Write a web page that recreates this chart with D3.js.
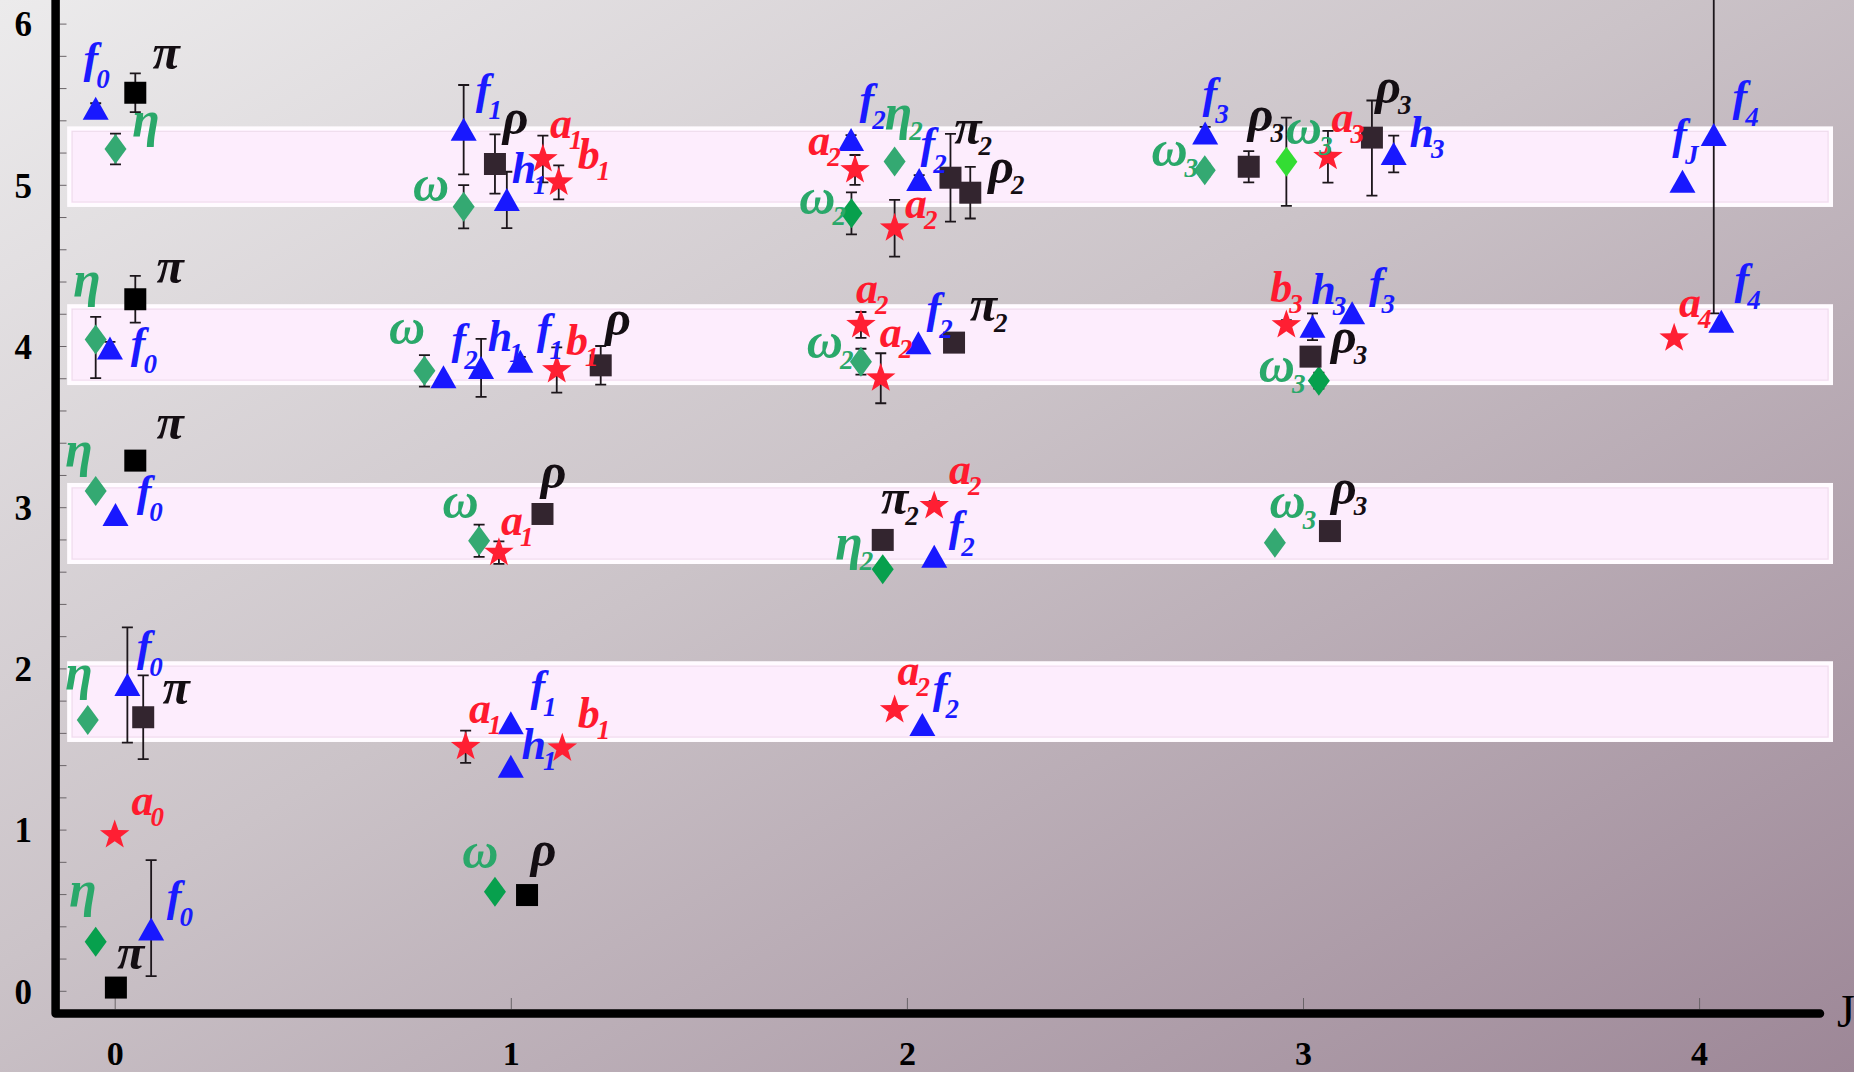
<!DOCTYPE html>
<html><head><meta charset="utf-8">
<script src="https://cdn.jsdelivr.net/npm/d3@7"></script>
<style>html,body{margin:0;padding:0;overflow:hidden;background:#fff}</style>
</head><body><svg id="c" width="1854" height="1072"></svg>
<script>
// ---------------- DATA (J, M^2, error low, error high) ----------------
const xTickLabels = [0, 1, 2, 3, 4];
const yTickLabels = [0, 1, 2, 3, 4, 5, 6];
const bands = [[4.875, 5.35], [3.77, 4.247], [2.66, 3.138], [1.556, 2.032]];

// pi / rho family, black squares
const squaresBlack = [
  {J: 0.003, m2: 0.02, lo: 0, hi: 0},
  {J: 1.041, m2: 0.594, lo: 0, hi: 0},
  {J: 0.052, m2: 3.289, lo: 0, hi: 0},
  {J: 0.052, m2: 4.29, lo: 0.145, hi: 0.145},
  {J: 0.052, m2: 5.571, lo: 0.12, hi: 0.12}
];
// pi / rho family, dark squares
const squaresDark = [
  {J: 0.072, m2: 1.697, lo: 0.26, hi: 0.26},
  {J: 1.080, m2: 2.958, lo: 0, hi: 0},
  {J: 1.939, m2: 2.797, lo: 0, hi: 0},
  {J: 3.068, m2: 2.852, lo: 0, hi: 0},
  {J: 1.227, m2: 3.880, lo: 0.12, hi: 0.12},
  {J: 2.119, m2: 4.021, lo: 0, hi: 0},
  {J: 3.019, m2: 3.934, lo: 0.04, hi: 0.04},
  {J: 0.960, m2: 5.129, lo: 0.184, hi: 0.184},
  {J: 2.110, m2: 5.044, lo: 0.272, hi: 0.272},
  {J: 2.160, m2: 4.951, lo: 0.16, hi: 0.16},
  {J: 2.863, m2: 5.112, lo: 0.097, hi: 0.097},
  {J: 3.174, m2: 5.293, lo: 0.36, hi: 0.23}
];
// eta / omega family, green diamonds
const diamondsDeep = [
  {J: -0.048, m2: 0.305, lo: 0, hi: 0},
  {J: 0.960, m2: 0.615, lo: 0, hi: 0},
  {J: 1.939, m2: 2.615, lo: 0, hi: 0},
  {J: 1.860, m2: 4.823, lo: 0.13, hi: 0.13},
  {J: 3.040, m2: 3.785, lo: 0.05, hi: 0.05}
];
const diamondsLight = [
  {J: -0.068, m2: 1.680, lo: 0, hi: 0},
  {J: -0.048, m2: 3.100, lo: 0, hi: 0},
  {J: 0.920, m2: 2.792, lo: 0.1, hi: 0.1},
  {J: 2.929, m2: 2.780, lo: 0, hi: 0},
  {J: -0.048, m2: 4.041, lo: 0.24, hi: 0.14},
  {J: 0.782, m2: 3.846, lo: 0.098, hi: 0.098},
  {J: 1.884, m2: 3.903, lo: 0.08, hi: 0.08},
  {J: 0.002, m2: 5.222, lo: 0.095, hi: 0.095},
  {J: 0.881, m2: 4.864, lo: 0.134, hi: 0.134},
  {J: 1.969, m2: 5.144, lo: 0, hi: 0},
  {J: 2.752, m2: 5.091, lo: 0.04, hi: 0.04}
];
const diamondsLime = [
  {J: 2.958, m2: 5.143, lo: 0.274, hi: 0.274}
];
// f / h family, blue triangles
const triangles = [
  {J: 0.092, m2: 0.381, lo: 0.29, hi: 0.43},
  {J: 0.032, m2: 1.897, lo: 0.357, hi: 0.357},
  {J: 1.000, m2: 1.659, lo: 0, hi: 0},
  {J: 1.000, m2: 1.390, lo: 0, hi: 0},
  {J: 2.039, m2: 1.649, lo: 0, hi: 0},
  {J: 0.002, m2: 2.951, lo: 0, hi: 0},
  {J: 2.069, m2: 2.693, lo: 0, hi: 0},
  {J: -0.012, m2: 3.985, lo: 0.04, hi: 0.04},
  {J: 0.830, m2: 3.806, lo: 0, hi: 0},
  {J: 0.925, m2: 3.864, lo: 0.18, hi: 0.18},
  {J: 1.024, m2: 3.902, lo: 0.03, hi: 0.03},
  {J: 2.029, m2: 4.017, lo: 0, hi: 0},
  {J: 3.024, m2: 4.120, lo: 0.083, hi: 0.083},
  {J: 3.124, m2: 4.203, lo: 0, hi: 0},
  {J: 4.056, m2: 4.151, lo: 0, hi: 0},
  {J: -0.048, m2: 5.471, lo: 0.035, hi: 0.035},
  {J: 0.881, m2: 5.342, lo: 0.277, hi: 0.277},
  {J: 0.990, m2: 4.906, lo: 0.175, hi: 0.175},
  {J: 1.859, m2: 5.278, lo: 0.03, hi: 0.03},
  {J: 2.031, m2: 5.030, lo: 0.03, hi: 0.03},
  {J: 2.753, m2: 5.319, lo: 0.04, hi: 0.04},
  {J: 3.229, m2: 5.191, lo: 0.114, hi: 0.114},
  {J: 3.958, m2: 5.019, lo: 0, hi: 0},
  {J: 4.037, m2: 5.309, lo: 1.106, hi: 1.106}
];
// a / b family, red stars
const stars = [
  {J: 0.000, m2: 0.966, lo: 0, hi: 0},
  {J: 0.886, m2: 1.514, lo: 0.1, hi: 0.1},
  {J: 1.130, m2: 1.504, lo: 0, hi: 0},
  {J: 1.969, m2: 1.742, lo: 0, hi: 0},
  {J: 0.970, m2: 2.718, lo: 0.07, hi: 0.07},
  {J: 2.069, m2: 3.008, lo: 0.03, hi: 0.03},
  {J: 1.116, m2: 3.851, lo: 0.14, hi: 0.14},
  {J: 1.884, m2: 4.131, lo: 0.08, hi: 0.08},
  {J: 1.934, m2: 3.800, lo: 0.155, hi: 0.155},
  {J: 2.958, m2: 4.130, lo: 0.03, hi: 0.03},
  {J: 3.937, m2: 4.048, lo: 0, hi: 0},
  {J: 1.081, m2: 5.160, lo: 0.145, hi: 0.145},
  {J: 1.121, m2: 5.015, lo: 0.106, hi: 0.106},
  {J: 1.869, m2: 5.092, lo: 0.093, hi: 0.093},
  {J: 1.969, m2: 4.730, lo: 0.176, hi: 0.176},
  {J: 3.063, m2: 5.174, lo: 0.16, hi: 0.16}
];

// labels: [symbol, subscript, J, M^2] (centre of the main glyph, in data units)
const blueLabels = [
  ["f","0",-0.060,5.762],["f","1",0.930,5.570],["h","1",1.033,5.104],
  ["f","0",0.059,3.994],["f","2",0.869,4.019],["h","1",0.973,4.056],["f","1",1.084,4.081],
  ["f","2",1.899,5.507],["f","2",2.053,5.235],["f","2",2.068,4.211],
  ["f","3",2.765,5.545],["h","3",3.300,5.327],["f","J",3.951,5.290],["f","4",4.103,5.526],
  ["h","3",3.052,4.348],["f","3",3.185,4.366],["f","4",4.108,4.392],
  ["f","0",0.074,3.076],["f","2",2.124,2.859],
  ["f","0",0.074,2.114],["f","1",1.068,1.866],["h","1",1.058,1.525],["f","2",2.084,1.854],
  ["f","0",0.150,0.564]
];
const redLabels = [
  ["a","1",1.127,5.352],["b","1",1.197,5.185],["b","1",1.167,4.037],
  ["a","2",1.779,5.247],["a","2",2.023,4.856],["a","2",1.899,4.329],["a","2",1.959,4.056],
  ["a","3",3.100,5.390],["b","3",2.945,4.360],["a","4",3.977,4.242],
  ["a","1",1.003,2.890],["a","2",2.134,3.201],
  ["a","1",0.922,1.723],["b","1",1.197,1.723],["a","2",2.004,1.959],
  ["a","0",0.070,1.153]
];
const greenLabels = [
  ["η","",0.079,5.340],["ω","",0.799,4.968],["η","",-0.070,4.348],["ω","",0.738,4.081],
  ["η","2",1.979,5.383],["ω","2",1.774,4.887],["ω","2",1.793,3.994],
  ["ω","3",2.663,5.185],["ω","3",3.002,5.321],["ω","3",2.934,3.846],
  ["η","",-0.090,3.293],["ω","",0.873,3.002],["η","2",1.854,2.716],["ω","3",2.961,3.002],
  ["η","",-0.090,1.909],["η","",-0.080,0.564],["ω","",0.923,0.830]
];
const blackLabels = [
  ["π","",0.130,5.788],["ρ","",1.012,5.352],["π","",0.140,4.460],["ρ","",1.271,4.105],
  ["π","2",2.154,5.321],["ρ","2",2.238,5.048],["π","2",2.193,4.224],
  ["ρ","3",2.893,5.371],["ρ","3",3.215,5.545],["ρ","3",3.103,3.994],
  ["π","",0.140,3.491],["ρ","",1.108,3.157],["π","2",1.969,3.027],["ρ","3",3.103,3.057],
  ["π","",0.155,1.847],["π","",0.040,0.203],["ρ","",1.083,0.811]
];
const axisTitle = "J";

// ---------------- DRAWING ----------------
const W = 1854, H = 1072;
const svg = d3.select('#c');
const defs = svg.append('defs');
const grad = defs.append('linearGradient').attr('id','bg')
  .attr('x1',0).attr('y1',0).attr('x2',1).attr('y2',1);
grad.append('stop').attr('offset','0%').attr('stop-color','#ecebec');
grad.append('stop').attr('offset','45%').attr('stop-color','#cbc3c8');
grad.append('stop').attr('offset','100%').attr('stop-color','#9d8797');
svg.append('rect').attr('width',W).attr('height',H).attr('fill','url(#bg)');

const x = d3.scaleLinear().domain([0,4]).range([114.7,1699.1]);
const y = d3.scaleLinear().domain([0,6]).range([990.8,23.6]);

// bands
svg.append('g').selectAll('rect').data(bands).join('rect')
  .attr('x', x(-0.115)).attr('width', x(4.333)-x(-0.115))
  .attr('y', d => y(d[1])).attr('height', d => y(d[0]) - y(d[1]))
  .attr('fill','#fdedfd').attr('stroke','#fffbff').attr('stroke-width',4);
svg.append('g').selectAll('rect').data(bands).join('rect')
  .attr('x', x(-0.115)+3).attr('width', x(4.333)-x(-0.115)-6)
  .attr('y', d => y(d[1])+3).attr('height', d => y(d[0]) - y(d[1])-6)
  .attr('fill','none').attr('stroke','#efdcec').attr('stroke-width',1);

// y axis ticks
const yMinor = d3.range(0, 30.5, 1).map(i => i/5);
const yAx = svg.append('g').attr('transform','translate(59.5,0)')
  .call(d3.axisRight(y).tickValues(yMinor).tickSize(7).tickFormat(''));
yAx.select('.domain').remove();
yAx.selectAll('line').attr('stroke','#6a6468').attr('stroke-width',1);
const yLab = svg.append('g').attr('transform','translate(32,0)')
  .call(d3.axisLeft(y).tickValues(yTickLabels).tickSize(0).tickPadding(0).tickFormat(d3.format('d')));
yLab.select('.domain').remove();
yLab.selectAll('text')
  .style('font-family','"Liberation Serif", serif').style('font-weight','bold')
  .style('font-size','35px').attr('fill','#000').attr('dy','0.35em');

// x axis ticks
const xAx = svg.append('g').attr('transform','translate(0,1009)')
  .call(d3.axisTop(x).tickValues(xTickLabels).tickSize(11).tickFormat(''));
xAx.select('.domain').remove();
xAx.selectAll('line').attr('stroke','#6a6468').attr('stroke-width',1);
const xLab = svg.append('g').attr('transform','translate(0,1041)')
  .call(d3.axisBottom(x).tickValues(xTickLabels).tickSize(0).tickPadding(0).tickFormat(d3.format('d')));
xLab.select('.domain').remove();
xLab.selectAll('text')
  .style('font-family','"Liberation Serif", serif').style('font-weight','bold')
  .style('font-size','34px').attr('fill','#000');

// thick axis lines
svg.append('path').attr('d','M55.6,-10 V1013.5 H1820')
  .attr('fill','none').attr('stroke','#000').attr('stroke-width',8.5)
  .attr('stroke-linecap','round').attr('stroke-linejoin','round');
svg.append('text').attr('x',1837).attr('y',1027).text(axisTitle)
  .style('font-family','"Liberation Serif", serif').style('font-size','46px').attr('fill','#000');

// error bars
const allPts = [].concat(squaresBlack, squaresDark, diamondsDeep, diamondsLight, diamondsLime, triangles, stars)
  .filter(d => d.lo > 0 || d.hi > 0);
const eb = svg.append('g').attr('stroke','#1c161b').attr('stroke-width',1.8).attr('fill','none');
eb.selectAll('path').data(allPts).join('path')
  .attr('d', d => {
    const cx = x(d.J), y1 = y(d.m2 - d.lo), y2 = y(d.m2 + d.hi);
    return `M${cx},${y1}V${y2}M${cx-5.5},${y1}H${cx+5.5}M${cx-5.5},${y2}H${cx+5.5}`;
  });

// marker shapes
function starPath(R, r) {
  let p = '';
  for (let i = 0; i < 10; i++) {
    const a = -Math.PI/2 + i*Math.PI/5, rr = i % 2 ? r : R;
    p += (i ? 'L' : 'M') + (rr*Math.cos(a)).toFixed(2) + ',' + (rr*Math.sin(a)).toFixed(2);
  }
  return p + 'Z';
}
const shapes = {
  square: 'M-11,-11H11V11H-11Z',
  diamond: 'M0,-15L11,0L0,15L-11,0Z',
  triangle: 'M0,-12L13,11L-13,11Z',
  star: starPath(15.5, 6.2)
};
function drawMarkers(data, shape, color) {
  svg.append('g').selectAll('path').data(data).join('path')
    .attr('d', shapes[shape])
    .attr('transform', d => `translate(${x(d.J)},${y(d.m2)})`)
    .attr('fill', color);
}
drawMarkers(diamondsLight, 'diamond', '#34a972');
drawMarkers(diamondsDeep, 'diamond', '#07a04d');
drawMarkers(diamondsLime, 'diamond', '#33dd33');
drawMarkers(squaresDark, 'square', '#33252f');
drawMarkers(squaresBlack, 'square', '#000000');
drawMarkers(triangles, 'triangle', '#1818ff');
drawMarkers(stars, 'star', '#ff1f33');

// labels
const baseOff = {f:0.25, h:0.33, b:0.33, a:0.22, 'π':0.22, 'ω':0.22, 'η':0.12, 'ρ':0.12};
function drawLabels(list, color) {
  const g = svg.append('g').attr('fill', color)
    .style('font-family','"Liberation Serif", serif').style('font-weight','bold').style('font-style','italic');
  list.forEach(([m, s, J, v]) => {
    const greek = /[πωηρ]/.test(m);
    const fs = greek ? 50 : 44;
    const cx = x(J), base = y(v) + baseOff[m]*fs;
    const t = g.append('text').attr('x', cx).attr('y', base).attr('text-anchor','middle')
      .style('font-size', fs + 'px').text(m);
    if (s) {
      const w = t.node().getComputedTextLength();
      g.append('text').attr('x', cx + w/2 - (m === 'f' ? 2 : 3)).attr('y', base + (m === 'f' ? 15 : 11))
        .style('font-size', '27px').text(s);
    }
  });
}
drawLabels(greenLabels, '#2aa86a');
drawLabels(blackLabels, '#140e13');
drawLabels(blueLabels, '#1a1aff');
drawLabels(redLabels, '#ff1a2e');
</script></body></html>
